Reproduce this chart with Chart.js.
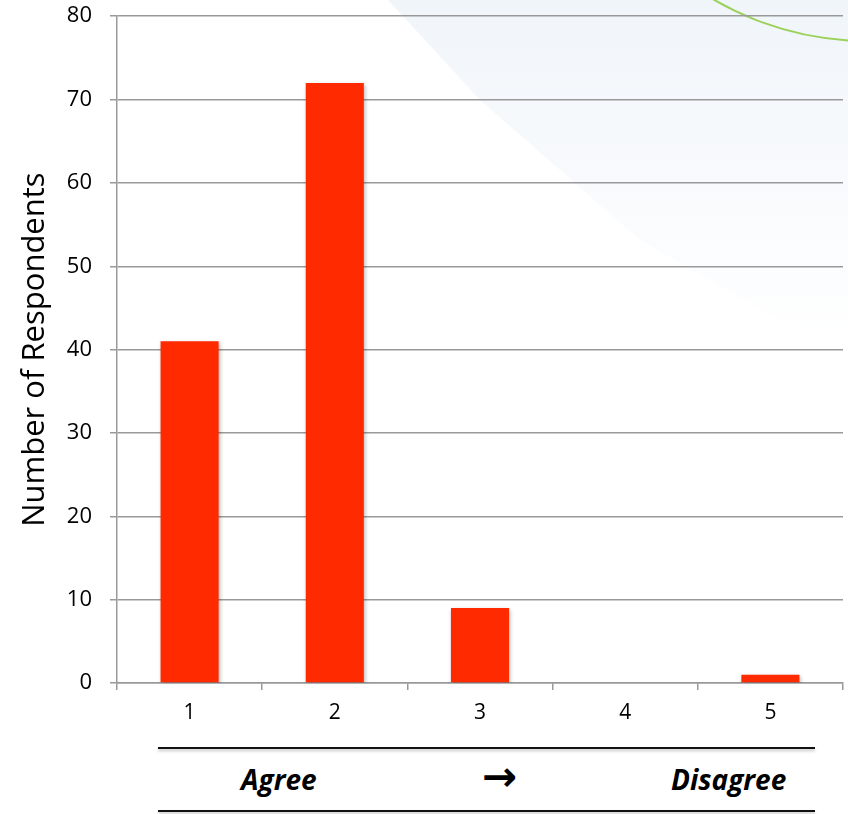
<!DOCTYPE html>
<html>
<head>
<meta charset="utf-8">
<script src="https://cdn.jsdelivr.net/npm/chart.js@4.4.0/dist/chart.umd.min.js"></script>
<style>
  body { margin:0; background:#fff; }
  #wrap { position:relative; width:848px; height:814px; overflow:hidden; }
  #glow { position:absolute; left:0; top:0; width:848px; height:814px;
          background:linear-gradient(180deg, rgba(240,245,250,1) 0%, rgba(243,247,251,0.8) 15%, rgba(246,249,252,0) 42%);
          clip-path:polygon(388px 0, 848px 0, 848px 360px, 640px 240px, 480px 100px); }
  #arc { position:absolute; left:562px; top:-568px; width:610px; height:610px;
         border:2.5px solid #9bd15a; border-radius:50%; box-sizing:border-box; }
  #chartBox { position:absolute; left:0; top:-15px; width:848px; height:755px; }
  .rule { position:absolute; left:158px; width:657px; height:0; border-top:2px solid #111;
          box-shadow:0 2px 3px rgba(0,0,0,0.25); }
  .scale { position:absolute; top:760px; font:italic bold 28px "Open Sans", sans-serif; color:#000; }
  .arrow { position:absolute; left:482px; top:752px; font:bold 42px "DejaVu Sans", sans-serif; color:#000; }
</style>
</head>
<body>
<div id="wrap">
  <div id="glow"></div>
  <div id="arc"></div>
  <div id="chartBox"><canvas id="myChart" width="848" height="755"></canvas></div>
  <div class="rule" style="top:747px"></div>
  <div class="scale" style="left:241px">Agree</div>
  <div class="arrow">&#8594;</div>
  <div class="scale" style="left:671px">Disagree</div>
  <div class="rule" style="top:810px"></div>
</div>
<script>
// response scale and counts
const categories = ['1', '2', '3', '4', '5'];
const respondents = [41, 72, 9, 0, 1];
const yTicks = [0, 10, 20, 30, 40, 50, 60, 70, 80];

// soft shadow under the bars
const barShadow = {
  id: 'barShadow',
  beforeDatasetsDraw(chart) {
    const c = chart.ctx;
    c.save();
    c.shadowColor = 'rgba(0,0,0,0.3)';
    c.shadowBlur = 4;
    c.shadowOffsetX = 1;
    c.shadowOffsetY = 2;
  },
  afterDatasetsDraw(chart) { chart.ctx.restore(); }
};

var ctx = document.getElementById('myChart').getContext('2d');
var chart = new Chart(ctx, {
  type: 'bar',
  data: {
    labels: categories,
    datasets: [{
      data: respondents,
      backgroundColor: '#ff2a00',
      borderWidth: 0,
      categoryPercentage: 0.4,
      barPercentage: 1.0
    }]
  },
  options: {
    responsive: false,
    animation: false,
    layout: { padding: { top: 3, right: 5, left: 0, bottom: 0 } },
    plugins: { legend: { display: false }, tooltip: { enabled: false } },
    scales: {
      x: {
        offset: true,
        grid: { offset: true, drawOnChartArea: false, drawTicks: true, tickLength: 7,
                color: '#999', lineWidth: 1.5 },
        border: { color: '#999', width: 1.5 },
        ticks: { color: '#000', font: { family: 'Open Sans', size: 21 }, padding: 10 },
        afterFit(s) { s.height = 57; }
      },
      y: {
        min: 0, max: 80,
        afterBuildTicks(s) { s.ticks = yTicks.map(v => ({ value: v })); },
        grid: { color: '#999', lineWidth: 1.5, tickLength: 7 },
        border: { color: '#999', width: 1.5 },
        ticks: { color: '#000', font: { family: 'Open Sans', size: 22 }, padding: 18 },
        title: { display: true, text: 'Number of Respondents', color: '#000',
                 font: { family: 'Open Sans', size: 31 }, padding: { top: 17, bottom: 0 } },
        afterFit(s) { s.width = 117; }
      }
    }
  },
  plugins: [barShadow]
});
</script>
</body>
</html>
